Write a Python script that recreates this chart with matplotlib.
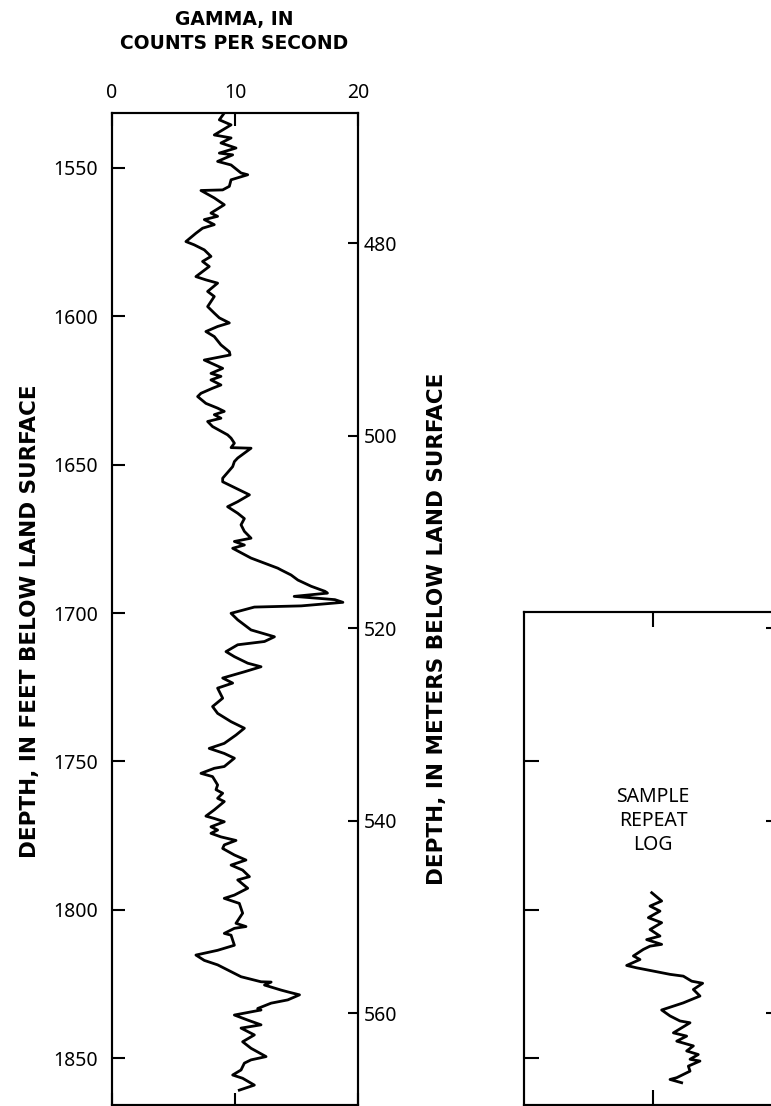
import matplotlib
matplotlib.use("Agg")
import matplotlib.pyplot as plt

plt.rcParams['font.family'] = ['Noto Sans', 'DejaVu Sans']

# ---------------- data ----------------
main_depth_ft = [
    1531.6, 1533.9, 1535.6, 1539.0, 1540.0, 1541.7, 1543.4, 1545.1, 1545.7, 1547.9,
    1549.1, 1551.8, 1552.4, 1554.1, 1556.3, 1557.5, 1557.7, 1560.2, 1562.5, 1565.3,
    1566.4, 1567.5, 1569.2, 1570.4, 1572.1, 1574.9, 1576.0, 1577.7, 1579.9, 1581.6,
    1583.3, 1586.7, 1587.8, 1588.9, 1591.7, 1593.4, 1596.8, 1599.0, 1600.6, 1602.3,
    1603.5, 1605.2, 1606.9, 1609.7, 1612.0, 1613.1, 1614.8, 1617.6, 1619.3, 1620.3,
    1621.5, 1623.2, 1624.3, 1626.0, 1627.1, 1629.4, 1631.0, 1632.1, 1633.2, 1634.4,
    1635.5, 1637.2, 1640.0, 1641.1, 1642.8, 1644.3, 1644.5, 1647.8, 1649.0, 1650.7,
    1654.6, 1655.8, 1658.0, 1660.2, 1662.5, 1664.2, 1666.4, 1668.2, 1670.3, 1672.5,
    1674.8, 1675.9, 1677.1, 1678.2, 1681.5, 1683.2, 1684.9, 1685.5, 1687.2, 1688.9,
    1691.0, 1692.7, 1693.3, 1694.4, 1695.5, 1696.4, 1697.6, 1698.0, 1698.9, 1700.1,
    1702.3, 1705.7, 1708.0, 1709.6, 1710.7, 1713.0, 1714.7, 1716.9, 1718.1, 1719.8,
    1721.9, 1723.6, 1725.3, 1728.7, 1731.5, 1733.8, 1736.6, 1738.8, 1741.1, 1743.9,
    1745.6, 1747.3, 1748.9, 1751.7, 1752.3, 1754.0, 1755.1, 1757.9, 1759.5, 1760.7,
    1762.4, 1763.5, 1766.3, 1768.4, 1769.2, 1770.3, 1772.0, 1773.1, 1774.2, 1775.4,
    1776.6, 1778.1, 1779.3, 1781.5, 1783.2, 1784.9, 1786.6, 1788.8, 1789.9, 1792.7,
    1795.0, 1796.1, 1797.8, 1801.1, 1804.5, 1805.6, 1806.2, 1807.9, 1808.5, 1811.9,
    1813.6, 1815.2, 1817.0, 1818.5, 1820.8, 1822.5, 1824.2, 1824.3, 1825.3, 1827.0,
    1827.6, 1828.6, 1830.3, 1831.4, 1833.2, 1833.7, 1835.4, 1837.1, 1838.7, 1839.8,
    1842.1, 1844.4, 1846.6, 1849.4, 1850.5, 1851.6, 1853.9, 1855.6, 1856.7, 1859.0,
    1860.7,
]
main_gamma_cps = [
    9.13, 8.73, 9.68, 8.32, 9.68, 8.86, 10.08, 8.73, 9.81, 8.59,
    9.68, 10.49, 11.03, 9.68, 9.54, 9.00, 7.24, 8.32, 9.13, 8.05,
    8.59, 7.51, 8.32, 7.37, 6.83, 6.02, 6.69, 7.51, 8.05, 7.37,
    7.91, 6.83, 7.64, 8.59, 7.78, 8.32, 7.78, 8.32, 8.73, 9.54,
    8.59, 7.64, 8.32, 8.86, 9.54, 9.60, 7.51, 9.00, 8.05, 8.86,
    8.05, 8.86, 8.18, 7.24, 6.97, 7.64, 8.59, 9.13, 8.32, 8.86,
    7.78, 8.18, 9.40, 9.68, 9.95, 9.68, 11.30, 10.22, 9.95, 9.81,
    9.00, 9.00, 10.08, 11.17, 10.22, 9.40, 10.22, 10.76, 10.49, 10.76,
    11.30, 9.95, 10.76, 9.81, 11.30, 12.39, 13.47, 13.74, 14.55, 15.10,
    16.18, 17.30, 17.50, 14.80, 18.10, 18.75, 15.37, 11.57, 10.76, 9.68,
    10.22, 11.30, 13.20, 12.39, 10.22, 9.27, 9.95, 11.03, 12.11, 10.76,
    9.00, 9.81, 8.59, 9.00, 8.18, 8.59, 9.68, 10.76, 10.08, 9.13,
    7.91, 9.13, 9.95, 9.13, 8.32, 7.24, 8.18, 8.59, 8.46, 9.00,
    8.59, 9.13, 8.32, 7.64, 8.32, 9.13, 8.05, 8.59, 8.05, 8.86,
    10.08, 9.13, 9.00, 9.95, 10.89, 9.68, 10.62, 11.17, 10.22, 11.03,
    9.95, 9.13, 10.35, 10.62, 10.08, 10.89, 9.95, 9.13, 9.68, 9.95,
    8.59, 6.83, 7.51, 8.59, 9.68, 10.49, 12.11, 12.93, 12.39, 13.74,
    14.28, 15.23, 14.28, 12.93, 11.84, 12.11, 9.95, 11.03, 12.11, 10.49,
    11.57, 10.62, 11.30, 12.52, 11.30, 10.76, 10.49, 9.81, 10.62, 11.57,
    10.35,
]

repeat_depth_ft = [
    1794.2, 1797.0, 1798.7, 1800.4, 1802.6, 1804.3, 1806.6, 1808.8, 1810.0, 1811.6,
    1812.2, 1813.3, 1815.5, 1816.7, 1818.7, 1819.5, 1820.6, 1821.7, 1822.3, 1824.0,
    1824.7, 1826.8, 1829.0, 1831.3, 1833.7, 1835.7, 1837.4, 1838.0, 1841.4, 1842.5,
    1844.2, 1845.8, 1847.5, 1848.7, 1850.3, 1850.9, 1852.6, 1854.3, 1856.5, 1857.1,
    1858.2,
]
repeat_gamma_cps = [
    9.90, 10.67, 9.77, 10.54, 9.64, 10.67, 9.77, 10.54, 9.51, 10.67,
    9.77, 9.25, 8.48, 8.99, 7.96, 8.73, 10.03, 11.32, 12.35, 13.00,
    13.85, 13.13, 13.64, 12.35, 10.67, 11.32, 12.09, 12.87, 11.58, 12.61,
    11.84, 13.13, 12.61, 13.51, 12.87, 13.64, 12.74, 12.87, 11.84, 11.32,
    12.22,
]

gamma_ticks = [0, 10, 20]
feet_ticks = [1550, 1600, 1650, 1700, 1750, 1800, 1850]
meter_ticks = [480, 500, 520, 540, 560]
panel_feet_ticks = [1750, 1800, 1850]
panel_meter_ticks = [520, 540, 560]

# ---------------- figure ----------------
W, H = 771, 1106
fig = plt.figure(figsize=(W / 100, H / 100), dpi=100)

def fx(px):
    return px / W

def fy(py):
    return 1 - py / H

LW = 1.5
FS = 14
CLW = 2.0
BOLD = dict(family=['DejaVu Sans'], fontweight='bold', fontsize=13.5)
BOLD_Y = dict(family=['DejaVu Sans'], fontweight='bold', fontsize=15.5)

# main log
ax = fig.add_axes([fx(111.7), fy(1105), (358.3 - 111.7) / W, (1105 - 113) / H])
ax.plot(main_gamma_cps, main_depth_ft, color='black', lw=CLW, solid_joinstyle='round')
ax.set_xlim(0, 20)
ax.set_ylim(1865.7, 1531.6)
ax.set_xticks(gamma_ticks)
ax.set_yticks(feet_ticks)
ax.tick_params(axis='x', top=True, bottom=True, labeltop=True, labelbottom=False,
               direction='in', length=9, width=LW, pad=7, labelsize=FS)
ax.tick_params(axis='y', left=True, right=False, direction='in', length=9,
               width=LW, pad=10, labelsize=FS)
for s in ax.spines.values():
    s.set_linewidth(LW)

ax2 = ax.twinx()
ax2.set_ylim(569.53, 466.46)
ax2.set_yticks(meter_ticks)
ax2.tick_params(axis='y', direction='in', length=7.5, width=LW, pad=4, labelsize=FS)
for s in ax2.spines.values():
    s.set_linewidth(LW)

fig.text(fx(234.5), fy(31.5), "GAMMA, IN\nCOUNTS PER SECOND", ha='center', va='center',
         linespacing=1.3, **BOLD)
fig.text(fx(30), fy(621), "DEPTH, IN FEET BELOW LAND SURFACE", rotation=90,
         ha='center', va='center', **BOLD_Y)
fig.text(fx(437), fy(629), "DEPTH, IN METERS BELOW LAND SURFACE", rotation=90,
         ha='center', va='center', **BOLD_Y)

# sample repeat log panel
axp = fig.add_axes([fx(524), fy(1105), 258 / W, (1105 - 612) / H])
axp.plot(repeat_gamma_cps, repeat_depth_ft, color='black', lw=CLW, solid_joinstyle='round')
axp.set_xlim(0, 20)
axp.set_ylim(1865.7, 1699.66)
axp.set_xticks([10])
axp.set_yticks(panel_feet_ticks)
axp.tick_params(axis='x', top=True, bottom=True, labeltop=False, labelbottom=False,
                direction='in', length=10.5, width=LW)
axp.tick_params(axis='y', left=True, right=False, labelleft=False,
                direction='in', length=11, width=LW)
for s in axp.spines.values():
    s.set_linewidth(LW)
axp2 = axp.twinx()
axp2.set_ylim(569.53, 518.31)
axp2.set_yticks(panel_meter_ticks)
axp2.tick_params(axis='y', direction='in', length=11.5, width=LW, labelright=False)
for s in axp2.spines.values():
    s.set_linewidth(LW)

fig.text(fx(653), fy(821), "SAMPLE\nREPEAT\nLOG", ha='center', va='center',
         fontsize=FS, linespacing=1.3)

fig.savefig("out.png", dpi=100)
